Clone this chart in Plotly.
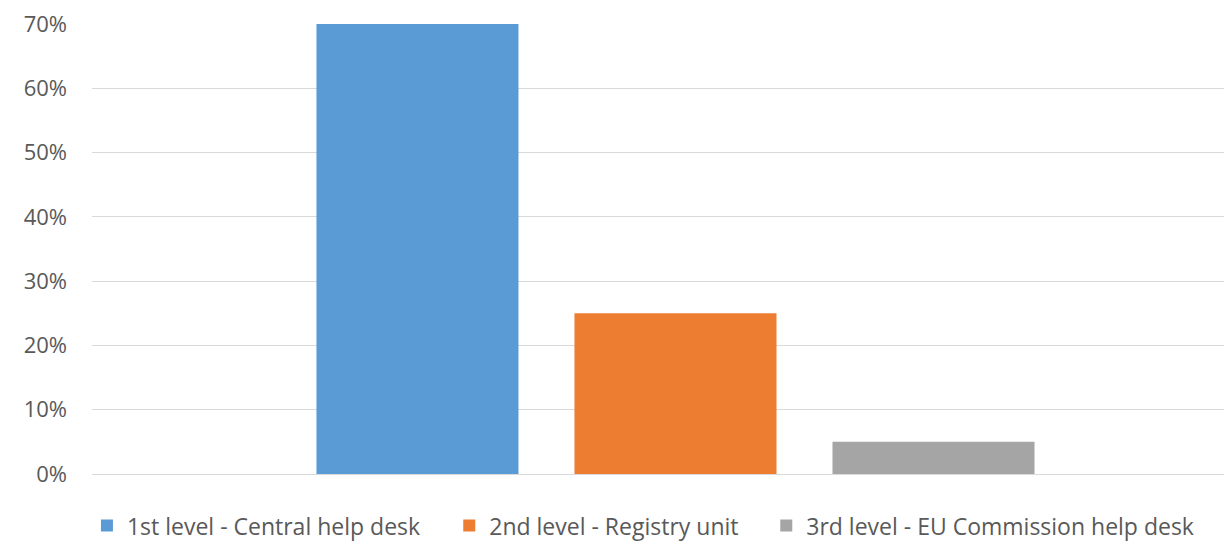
import plotly.graph_objects as go

category = ["Level"]
series_names = [
    "1st level - Central help desk",
    "2nd level - Registry unit",
    "3rd level - EU Commission help desk",
]
series_values = [0.70, 0.25, 0.05]
colors = ["#5B9BD5", "#ED7D31", "#A5A5A5"]
tick_vals = [0, 0.1, 0.2, 0.3, 0.4, 0.5, 0.6, 0.7]

legend_ids = ["legend", "legend2", "legend3"]
legend_x = [0.0645, 0.3605, 0.6195]

fig = go.Figure()
for name, val, col, lid in zip(series_names, series_values, colors, legend_ids):
    fig.add_trace(go.Bar(x=category, y=[val], name=name, marker_color=col,
                         marker_line_width=0, legend=lid))

W, H = 1224, 537
legend_common = dict(orientation="h", xref="container", yref="container",
                     y=0.036, xanchor="left", yanchor="middle",
                     font=dict(family="Open Sans", size=23, color="#595959"),
                     bgcolor="rgba(0,0,0,0)")
layout_legends = {}
for lid, lx in zip(legend_ids, legend_x):
    layout_legends[lid] = dict(legend_common, x=lx)

fig.update_layout(
    width=W, height=H,
    margin=dict(l=84, r=0, t=12, b=71),
    paper_bgcolor="white", plot_bgcolor="white",
    barmode="group", bargap=0.3367, bargroupgap=0.217,
    font=dict(family="Open Sans", size=22, color="#595959"),
    showlegend=True,
    xaxis=dict(range=[-0.5, 0.4769], showticklabels=False, showgrid=False,
               zeroline=False, showline=False, fixedrange=True),
    yaxis=dict(range=[0, 0.7], tickvals=tick_vals, tickformat=".0%",
               showgrid=True, gridcolor="#D9D9D9", gridwidth=1,
               zeroline=True, zerolinecolor="#D9D9D9", zerolinewidth=1,
               showline=False, ticks="", ticklabelstandoff=24,
               ticklabeloverflow="allow",
               tickfont=dict(family="Open Sans", size=22, color="#595959")),
    **layout_legends,
)

fig.write_html("out.html")
